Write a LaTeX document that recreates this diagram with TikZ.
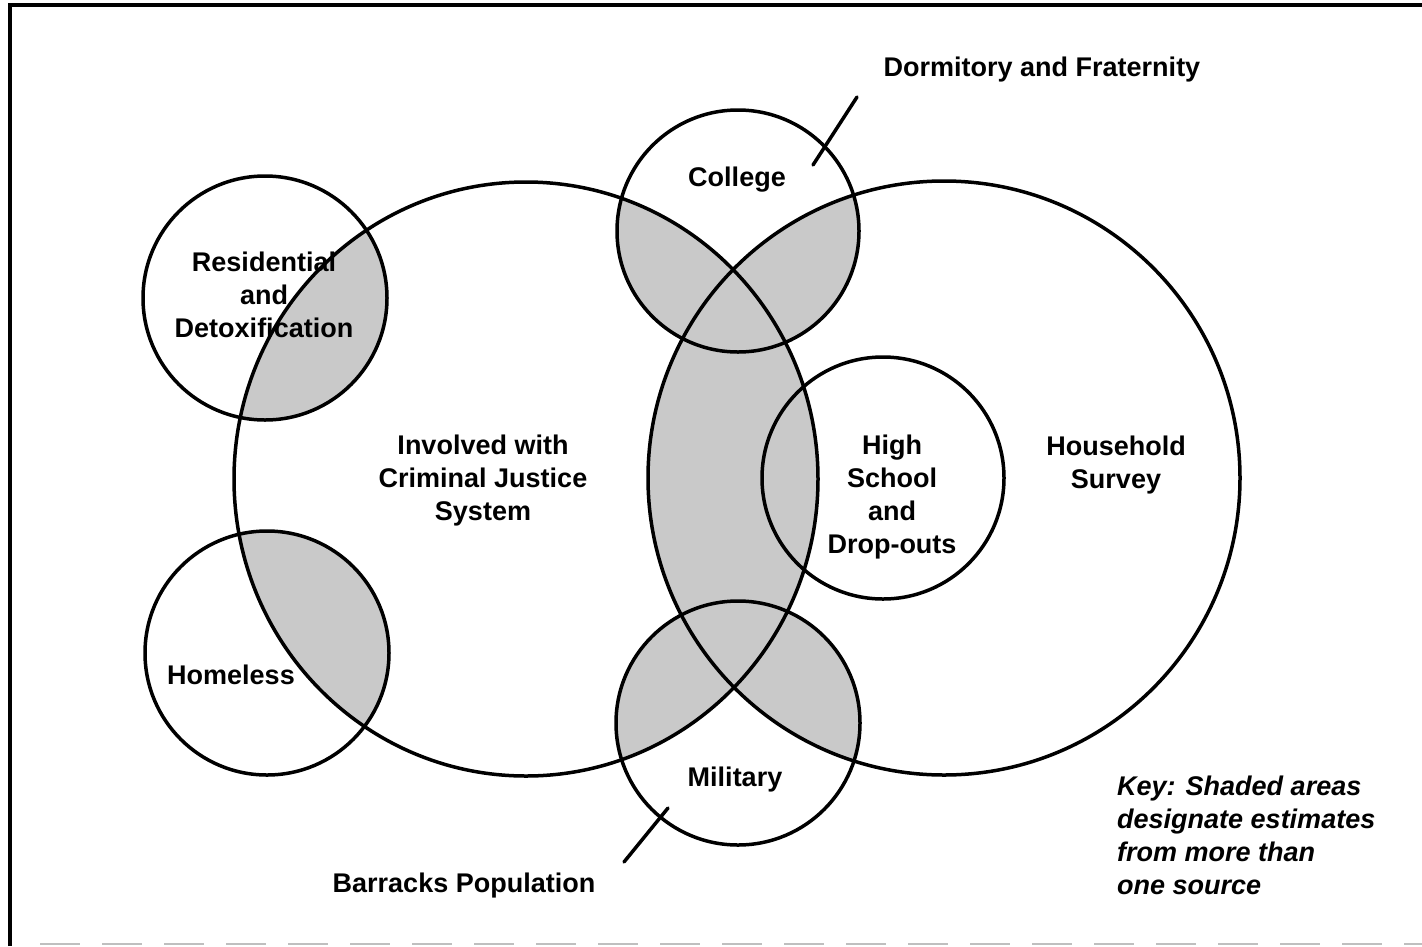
\documentclass[tikz,border=0pt]{standalone}
\usepackage{fontspec}
\setmainfont{Liberation Sans}
\begin{document}
\begin{tikzpicture}[x=1pt,y=-1pt,
  ring/.style={line width=3.5pt,draw=black},
  shade/.style={fill=black!21},
  lbl/.style={font=\fontsize{27}{33}\selectfont\bfseries,align=center,inner sep=0pt},
  keytxt/.style={font=\fontsize{27}{33}\selectfont\bfseries\itshape,align=left,inner sep=0pt,anchor=north west},
  leader/.style={line width=3.5pt,line cap=round}]
\useasboundingbox (0,0) rectangle (1422,946);
% frame
\draw[line width=4pt] (10,946) -- (10,5) -- (1422,5);
\draw[black!25,line width=2pt,dash pattern=on 40pt off 22pt] (40,944) -- (1422,944);
% centres
\coordinate (cjs) at (526,479);
\coordinate (hh) at (944,478);
\coordinate (res) at (265,298);
\coordinate (hom) at (267,653);
\coordinate (col) at (738,231);
\coordinate (mil) at (738,723);
\coordinate (hs) at (883,478);
\def\cjspath{(cjs) ellipse [x radius=292,y radius=297]}
\def\hhpath{(hh) ellipse [x radius=296,y radius=297]}
% shaded regions
\begin{scope}\clip (res) circle (122); \fill[shade] \cjspath; \end{scope}
\begin{scope}\clip (hom) circle (122); \fill[shade] \cjspath; \end{scope}
\begin{scope}\clip \cjspath; \fill[shade] \hhpath; \end{scope}
\begin{scope}\clip (col) circle (121); \fill[shade] \cjspath; \fill[shade] \hhpath; \end{scope}
\begin{scope}\clip (mil) circle (122); \fill[shade] \cjspath; \fill[shade] \hhpath; \end{scope}
% outlines
\draw[ring] \cjspath;
\draw[ring] \hhpath;
\draw[ring] (res) circle (122);
\draw[ring] (hom) circle (122);
\draw[ring] (col) circle (121);
\draw[ring] (mil) circle (122);
\draw[ring] (hs) circle (121);
% labels
\node[lbl] (dorm) at (1042,70) {Dormitory and Fraternity};
\node[lbl] (college) at (737,180) {College};
\node[lbl] (resl) at (264,295) {Residential\\and\\Detoxification};
\node[lbl] (cjsl) at (483,481) {Involved with\\Criminal Justice\\System};
\node[lbl] (hsl) at (892,497) {High\\School\\and\\Drop-outs};
\node[lbl] (hhl) at (1116,465) {Household\\Survey};
\node[lbl] (homl) at (231,675) {Homeless};
\node[lbl] (mill) at (735,780) {Military};
\node[lbl] (barr) at (464,886) {Barracks Population};
\node[keytxt] (key) at (1117,776) {Key: Shaded areas\\designate estimates\\from more than\\one source};
% leader lines
\coordinate (d1) at (857,97);
\coordinate (d2) at (813,165);
\coordinate (b1) at (668,808);
\coordinate (b2) at (624,862);
\draw[leader] (d1) -- (d2);
\draw[leader] (b1) -- (b2);
\end{tikzpicture}
\end{document}
